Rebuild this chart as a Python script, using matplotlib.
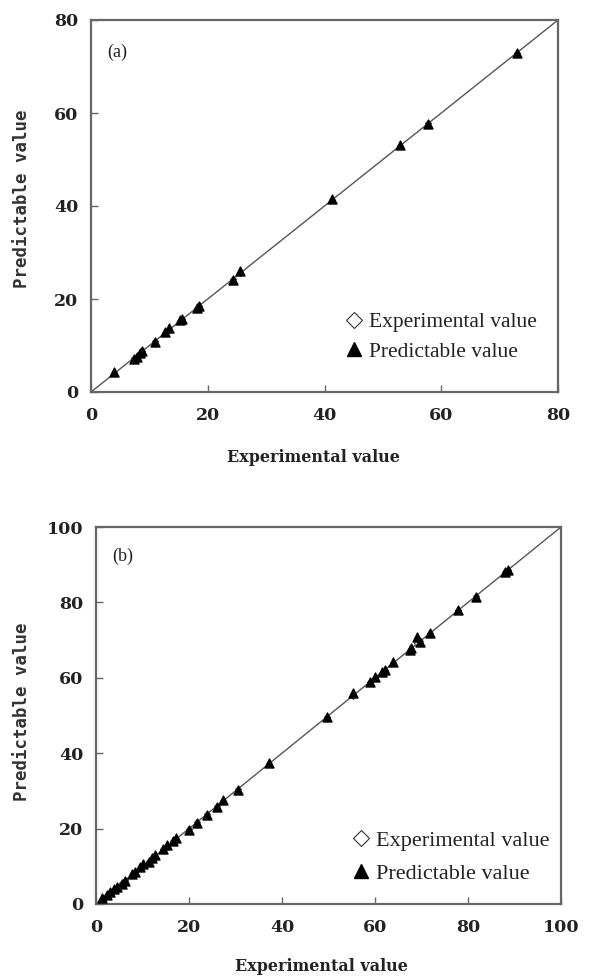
import matplotlib
matplotlib.use("Agg")
import matplotlib.pyplot as plt
from matplotlib.lines import Line2D

# Panel (a) data
exp_a = [4.0, 7.3, 7.8, 8.4, 8.8, 11.0, 12.7, 13.3, 15.2, 15.6, 18.1, 18.5, 24.4, 25.6, 41.3, 52.9, 57.8, 72.9]
pred_a = [4.2, 7.1, 7.6, 8.3, 8.9, 10.8, 13.0, 13.7, 15.4, 15.8, 18.0, 18.4, 24.1, 26.1, 41.6, 53.1, 57.6, 73.0]

# Panel (b) data
exp_b = [1.3, 2.4, 3.1, 3.8, 4.5, 5.6, 6.3, 7.7, 8.4, 9.5, 10.2, 11.3, 12.0, 12.7, 14.5, 15.2,
         16.6, 17.3, 19.9, 21.7, 23.8, 26.0, 27.4, 30.6, 37.2, 49.6, 55.3, 58.9, 60.0, 61.4,
         62.2, 63.9, 67.5, 67.7, 69.1, 69.7, 71.8, 77.9, 81.7, 88.0, 88.7]
pred_b = [1.5, 2.4, 3.3, 4.0, 4.6, 5.3, 6.1, 7.9, 8.4, 9.8, 10.7, 11.1, 12.2, 13.0, 14.7, 15.6,
          16.6, 17.4, 19.6, 21.4, 23.6, 25.8, 27.6, 30.2, 37.3, 49.7, 55.9, 59.0, 60.1, 61.6,
          62.1, 64.3, 67.4, 67.8, 70.9, 69.6, 71.8, 78.1, 81.5, 88.1, 88.6]

ticks_a = [0, 20, 40, 60, 80]
ticks_b = [0, 20, 40, 60, 80, 100]

W, H = 610, 977
fig = plt.figure(figsize=(W / 100, H / 100), dpi=100)

frame_col = "#666666"


def panel(rect, ex, pr, ticks, lim, tag, tag_y, leg_anchor, leg_size, leg_space, xlab_pos, ylab_pos):
    l, t, r, b = rect
    ax = fig.add_axes([l / W, 1 - b / H, (r - l) / W, (b - t) / H])
    ax.plot([0, lim], [0, lim], color="#555555", lw=1.0, zorder=1)
    ax.scatter(ex, ex, marker="D", s=10, facecolor="white", edgecolor="#333333", lw=0.6, zorder=2)
    ax.scatter(ex, pr, marker="^", s=42, color="black", zorder=3)
    ax.set_xlim(0, lim)
    ax.set_ylim(0, lim)
    ax.set_xticks(ticks)
    ax.set_yticks(ticks)
    ax.tick_params(direction="in", length=5, width=1, color=frame_col, pad=11)
    ax.tick_params(axis="y", pad=9)
    for lab in ax.get_xticklabels() + ax.get_yticklabels():
        lab.set_fontfamily("DejaVu Serif")
        lab.set_fontweight("bold")
        lab.set_fontsize(12.5)
        lab.set_color("#222222")
    for sp in ax.spines.values():
        sp.set_color(frame_col)
        sp.set_linewidth(1.6)
    ax.set_xlabel("Experimental value", color="#222222", va="center", ha="center",
                  family="DejaVu Serif", fontweight="bold", fontsize=11.5)
    ax.xaxis.set_label_coords(*xlab_pos)
    ax.set_ylabel("Predictable value", color="#333333", va="center", ha="center",
                  family="DejaVu Sans Mono", fontweight="bold", fontsize=12.5)
    ax.yaxis.set_label_coords(*ylab_pos)
    ax.text(0.035, tag_y, tag, transform=ax.transAxes, family="Liberation Serif",
            fontsize=13, color="#222222", va="center", ha="left")
    handles = [
        Line2D([], [], ls="none", marker="D", markersize=8, markerfacecolor="white",
               markeredgecolor="#333333", markeredgewidth=0.8),
        Line2D([], [], ls="none", marker="^", markersize=10, color="black"),
    ]
    ax.legend(handles, ["Experimental value", "Predictable value"], loc="upper left",
              bbox_to_anchor=leg_anchor, frameon=False, prop=dict(family="Liberation Serif", size=leg_size),
              handlelength=0.8, handletextpad=0.3, borderpad=0, borderaxespad=0, labelspacing=leg_space,
              labelcolor="#222222")
    return ax


panel((91, 20, 558, 392), exp_a, pred_a, ticks_a, 80, "(a)", 0.914, (0.545, 0.215), 15.5, 0.45,
      (0.477, -0.177), (-0.148, 0.519))
panel((96, 527, 561, 904), exp_b, pred_b, ticks_b, 100, "(b)", 0.923, (0.55, 0.195), 16, 0.55,
      (0.485, -0.167), (-0.159, 0.509))

fig.savefig("out.png", dpi=100, facecolor="white")
